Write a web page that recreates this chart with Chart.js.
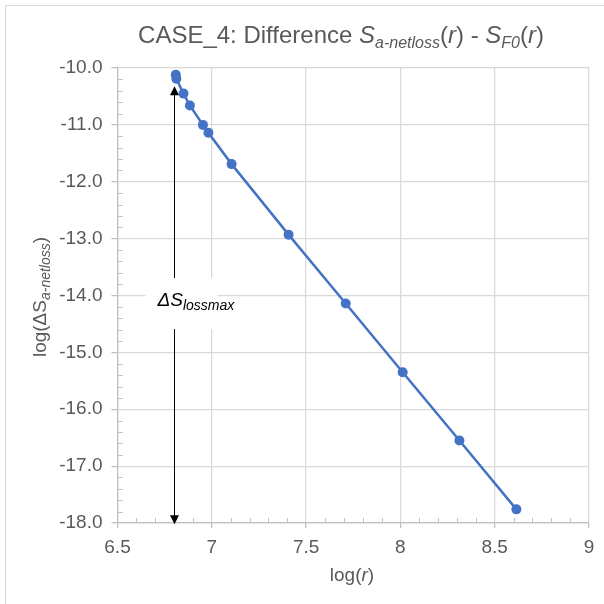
<!DOCTYPE html>
<html>
<head>
<meta charset="utf-8">
<script src="https://cdn.jsdelivr.net/npm/chart.js@4"></script>
<style>
  body { margin: 0; background: #fff; }
</style>
</head>
<body>
<canvas id="chart" width="604" height="604"></canvas>
<script>
// log(r) and log(dS)
const logR = [6.809, 6.812, 6.850, 6.884, 6.953, 6.982, 7.105, 7.407, 7.710, 8.012, 8.313, 8.615];
const logDS = [-10.12, -10.19, -10.45, -10.66, -11.00, -11.14, -11.69, -12.93, -14.14, -15.35, -16.55, -17.76];

// double arrow for dS lossmax
const arrowX = 6.80;
const arrowTop = -10.32;
const arrowBottom = -18.02;
const labelY = -14.15;

const FAM = '"Liberation Sans", Arial, sans-serif';
const TXT = '#595959';
const BLUE = '#4472C4';
const GRID = '#d9d9d9';

function richText(c, parts, x, y, size, subSize, drop, align) {
    const fontOf = p => (p.i ? 'italic ' : '') + (p.sub ? subSize : size) + 'px ' + FAM;
    let w = 0;
    parts.forEach(p => { c.font = fontOf(p); w += c.measureText(p.t).width; });
    let cx = align === 'left' ? x : x - w / 2;
    c.textAlign = 'left';
    c.textBaseline = 'alphabetic';
    parts.forEach(p => {
        c.font = fontOf(p);
        c.fillText(p.t, cx, y + (p.sub ? drop : 0));
        cx += c.measureText(p.t).width;
    });
}

const decor = {
    id: 'decor',
    beforeDraw(chart) {
        const c = chart.ctx;
        c.save();
        c.fillStyle = '#fff';
        c.fillRect(0, 0, chart.width, chart.height);
        c.strokeStyle = GRID;
        c.lineWidth = 1;
        c.strokeRect(5.5, 5.5, chart.width + 20, chart.height + 20);
        c.restore();
    },
    afterDatasetsDraw(chart) {
        const c = chart.ctx;
        const xs = chart.scales.x, ys = chart.scales.y;
        const a = chart.chartArea;
        c.save();

        // minor tick marks inside the plot
        c.strokeStyle = '#bfbfbf';
        c.lineWidth = 1;
        c.beginPath();
        for (let k = 66; k < 90; k++) {
            if (k % 5 === 0) continue;
            const px = Math.round(xs.getPixelForValue(k / 10)) + 0.5;
            c.moveTo(px, a.bottom);
            c.lineTo(px, a.bottom - 5);
        }
        for (let k = -89; k < -50; k++) {
            if (k % 5 === 0) continue;
            const py = Math.round(ys.getPixelForValue(k / 5)) + 0.5;
            c.moveTo(a.left, py);
            c.lineTo(a.left + 5, py);
        }
        c.stroke();

        // double arrow
        const ax = Math.round(xs.getPixelForValue(arrowX)) + 0.5;
        const yT = ys.getPixelForValue(arrowTop);
        const yB = ys.getPixelForValue(arrowBottom);
        c.strokeStyle = '#000';
        c.fillStyle = '#000';
        c.lineWidth = 1;
        c.beginPath();
        c.moveTo(ax, yT + 6);
        c.lineTo(ax, yB - 6);
        c.stroke();
        c.beginPath();
        c.moveTo(ax, yT);
        c.lineTo(ax - 4.5, yT + 9);
        c.lineTo(ax + 4.5, yT + 9);
        c.closePath();
        c.fill();
        c.beginPath();
        c.moveTo(ax, yB);
        c.lineTo(ax - 4.5, yB - 9);
        c.lineTo(ax + 4.5, yB - 9);
        c.closePath();
        c.fill();

        // label box
        const ly = ys.getPixelForValue(labelY);
        c.fillStyle = '#fff';
        c.fillRect(ax - 29, ly - 26, 72, 51);
        c.fillStyle = '#000';
        richText(c, [{t: 'ΔS', i: 1}, {t: 'lossmax', i: 1, sub: 1}], ax - 17, ly + 2, 19, 14, 4, 'left');
        c.restore();
    },
    afterDraw(chart) {
        const c = chart.ctx;
        c.save();
        c.fillStyle = TXT;
        // chart title
        richText(c, [
            {t: 'CASE_4: Difference '}, {t: 'S', i: 1}, {t: 'a-netloss', i: 1, sub: 1},
            {t: '('}, {t: 'r', i: 1}, {t: ') - '}, {t: 'S', i: 1}, {t: 'F0', i: 1, sub: 1},
            {t: '('}, {t: 'r', i: 1}, {t: ')'}
        ], 341, 43, 24, 16, 5);
        // x title
        richText(c, [{t: 'log('}, {t: 'r', i: 1}, {t: ')'}], 352, 581, 19, 14, 4);
        // y title
        c.translate(46, 297);
        c.rotate(-Math.PI / 2);
        richText(c, [{t: 'log(ΔS'}, {t: 'a-netloss', i: 1, sub: 1}, {t: ')'}], 0, 0, 19, 14, 4);
        c.restore();
    }
};

const ctx = document.getElementById('chart').getContext('2d');

const config = {
    type: 'scatter',
    data: {
        datasets: [{
            data: logR.map((x, i) => ({x: x, y: logDS[i]})),
            showLine: true,
            borderColor: BLUE,
            backgroundColor: BLUE,
            borderWidth: 2.5,
            pointRadius: 5,
            pointHoverRadius: 5,
            pointBorderWidth: 0
        }]
    },
    options: {
        responsive: false,
        animation: false,
        devicePixelRatio: 1,
        layout: {padding: {top: 68, right: 15, left: 0, bottom: 0}},
        plugins: {
            legend: {display: false},
            tooltip: {enabled: false},
            title: {display: false}
        },
        scales: {
            x: {
                type: 'linear',
                min: 6.5,
                max: 9,
                ticks: {stepSize: 0.5, color: TXT, font: {family: FAM, size: 19}, padding: 8, maxRotation: 0, autoSkip: false,
                        callback: v => String(+v.toFixed(1))},
                grid: {color: GRID, lineWidth: 1.25, tickLength: 5, tickColor: '#bfbfbf'},
                border: {color: '#bfbfbf', width: 1.25},
                afterFit: s => { s.height = 81; }
            },
            y: {
                min: -18,
                max: -10,
                ticks: {stepSize: 1, color: TXT, font: {family: FAM, size: 19}, padding: 9, callback: v => v.toFixed(1)},
                grid: {color: GRID, lineWidth: 1.25, tickLength: 6, tickColor: '#bfbfbf'},
                border: {color: '#bfbfbf', width: 1.25},
                afterFit: s => { s.width = 117.5; }
            }
        }
    },
    plugins: [decor]
};

const myChart = new Chart(ctx, config);
</script>
</body>
</html>
